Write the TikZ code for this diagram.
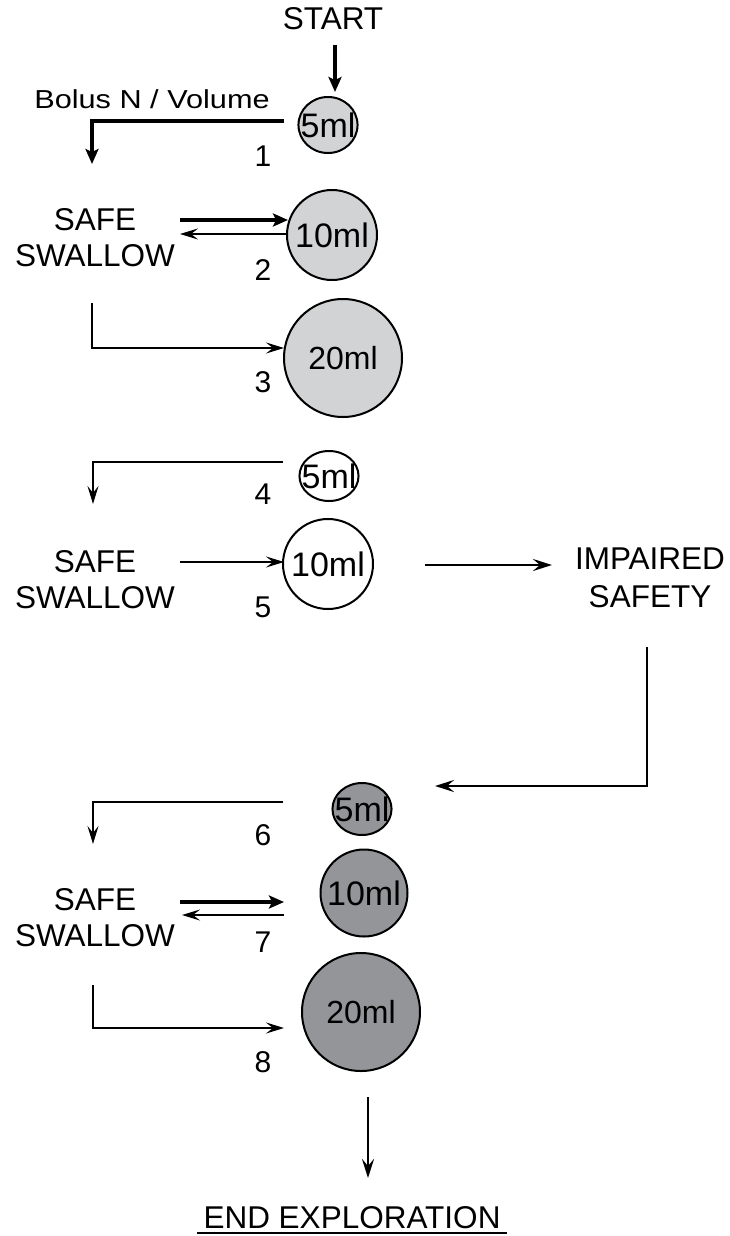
\documentclass[tikz,border=0pt]{standalone}
\usepackage{fontspec}
\setmainfont{Liberation Sans}
\usetikzlibrary{arrows.meta,shapes.geometric}
\definecolor{lightg}{HTML}{D1D3D4}
\definecolor{darkg}{HTML}{939598}
\tikzset{
  lbl/.style={inner sep=0pt,font=\fontsize{31.5}{36}\selectfont},
  twoline/.style={inner sep=0pt,align=center,font=\fontsize{31.5}{36}\selectfont},
  num/.style={inner sep=0pt,font=\fontsize{30}{32}\selectfont},
  vol/.style={draw=black,line width=2pt,inner sep=0pt,font=\fontsize{34}{36}\selectfont},
  smallvol/.style={vol,ellipse,inner xsep=-6.5pt,minimum height=53pt},
  bigvol/.style={vol,circle},
  thickarrow/.style={line width=4pt,-{Stealth[length=15pt,width=13pt,inset=3pt]}},
  thinarrow/.style={line width=2.2pt,-{Stealth[length=18pt,width=11pt,inset=7pt]}},
  medarrow/.style={line width=2.8pt,-{Stealth[length=19pt,width=12pt,inset=7pt]}},
}
\begin{document}
\begin{tikzpicture}[x=1pt,y=-1pt]
\useasboundingbox (0,0) rectangle (730,1236);

% texts
\node[lbl] (start) at (333,19) {START};
\node[inner sep=0pt,font=\fontsize{26}{28}\selectfont] (bolus) at (152,99) {\scalebox{1.18}[1]{Bolus N / Volume}};
\node[twoline] (ss1) at (95,238) {SAFE\\SWALLOW};
\node[twoline] (ss2) at (95,580) {SAFE\\SWALLOW};
\node[twoline,font=\fontsize{31.5}{38}\selectfont] (imp) at (650,578) {IMPAIRED\\SAFETY};
\node[twoline] (ss3) at (95,918) {SAFE\\SWALLOW};
\node[lbl] (endx) at (352,1218) {END EXPLORATION};
\draw[line width=2pt] ([xshift=-6pt,yshift=-15pt]endx.west) -- ([xshift=6pt,yshift=-15pt]endx.east);

% numbers
\node[num] (n1) at (263,156) {1};
\node[num] (n2) at (263,270) {2};
\node[num] (n3) at (263,382) {3};
\node[num] (n4) at (263,494) {4};
\node[num] (n5) at (263,607) {5};
\node[num] (n6) at (263,835) {6};
\node[num] (n7) at (263,942) {7};
\node[num] (n8) at (263,1062) {8};

% volumes
\node[smallvol,fill=lightg,minimum height=56pt] (c1) at (328,125) {5ml};
\node[bigvol,fill=lightg,minimum size=90pt] (c2) at (332,235) {10ml};
\node[bigvol,fill=lightg,minimum size=118pt,font=\fontsize{32}{36}\selectfont] (c3) at (343,358) {20ml};
\node[smallvol,fill=white,minimum height=50pt] (c4) at (329,476) {5ml};
\node[bigvol,fill=white,minimum size=90pt] (c5) at (328,564) {10ml};
\node[smallvol,fill=darkg,minimum height=52pt] (c6) at (362,809) {5ml};
\node[bigvol,fill=darkg,minimum size=87pt] (c7) at (364,893) {10ml};
\node[bigvol,fill=darkg,minimum size=118pt,font=\fontsize{32}{36}\selectfont] (c8) at (361,1012) {20ml};

% coordinates
\coordinate (a0s) at (335,45);   \coordinate (a0e) at (335,92);
\coordinate (a1s) at (284,121);  \coordinate (a1c) at (92,121);  \coordinate (a1e) at (92,164);
\coordinate (a2s) at (180,220);  \coordinate (a2e) at (288,220);
\coordinate (a2bs) at (286,234); \coordinate (a2be) at (180,234);
\coordinate (a3s) at (92,303);   \coordinate (a3c) at (92,348);  \coordinate (a3e) at (284,348);
\coordinate (a4s) at (283,462);  \coordinate (a4c) at (93,462);  \coordinate (a4e) at (93,504);
\coordinate (a5s) at (180,562);  \coordinate (a5e) at (284,562);
\coordinate (a6s) at (425,565);  \coordinate (a6e) at (552,565);
\coordinate (a7s) at (647,647);  \coordinate (a7c) at (647,786); \coordinate (a7e) at (435,786);
\coordinate (a8s) at (283,802);  \coordinate (a8c) at (93,802);  \coordinate (a8e) at (93,844);
\coordinate (a9s) at (180,902);  \coordinate (a9e) at (284,902);
\coordinate (a9bs) at (284,915); \coordinate (a9be) at (182,915);
\coordinate (a10s) at (93,985);  \coordinate (a10c) at (93,1028); \coordinate (a10e) at (284,1028);
\coordinate (a11s) at (368,1097); \coordinate (a11e) at (368,1178);

% connectors
\draw[thickarrow] (a0s) -- (a0e);
\draw[thickarrow] (a1s) -- (a1c) -- (a1e);
\draw[thickarrow] (a2s) -- (a2e);
\draw[thinarrow] (a2bs) -- (a2be);
\draw[thinarrow] (a3s) -- (a3c) -- (a3e);
\draw[thinarrow] (a4s) -- (a4c) -- (a4e);
\draw[thinarrow] (a5s) -- (a5e);
\draw[medarrow] (a6s) -- (a6e);
\draw[medarrow] (a7s) -- (a7c) -- (a7e);
\draw[thinarrow] (a8s) -- (a8c) -- (a8e);
\draw[thickarrow] (a9s) -- (a9e);
\draw[thinarrow] (a9bs) -- (a9be);
\draw[thinarrow] (a10s) -- (a10c) -- (a10e);
\draw[medarrow] (a11s) -- (a11e);
\end{tikzpicture}
\end{document}
